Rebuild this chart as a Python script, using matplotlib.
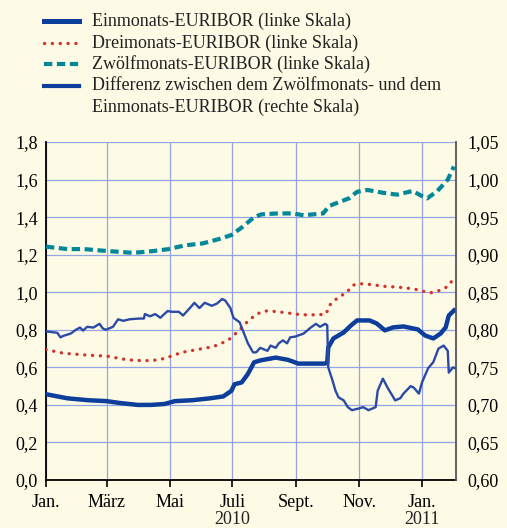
import matplotlib
matplotlib.use("Agg")
import matplotlib.pyplot as plt
import matplotlib.dates as mdates
from matplotlib.lines import Line2D
import pandas as pd

# --- data (per cent) ---
one_m_dates = ["2010-01-01", "2010-01-22", "2010-02-11", "2010-03-01", "2010-03-14", "2010-03-31",
               "2010-04-13", "2010-04-26", "2010-05-06", "2010-05-23", "2010-06-09", "2010-06-22",
               "2010-06-30", "2010-07-03", "2010-07-10", "2010-07-16", "2010-07-22", "2010-07-28",
               "2010-08-12", "2010-08-24", "2010-09-03", "2010-09-27", "2010-10-01", "2010-10-02",
               "2010-10-07", "2010-10-17", "2010-10-24", "2010-10-30", "2010-11-11", "2010-11-18",
               "2010-11-26", "2010-12-04", "2010-12-14", "2010-12-28", "2011-01-04", "2011-01-12",
               "2011-01-19", "2011-01-24", "2011-01-27", "2011-02-01"]
one_m = [0.457, 0.435, 0.425, 0.42, 0.41, 0.40,
         0.40, 0.405, 0.42, 0.425, 0.435, 0.445,
         0.475, 0.51, 0.52, 0.565, 0.627, 0.637,
         0.652, 0.64, 0.62, 0.62, 0.622, 0.706,
         0.754, 0.786, 0.823, 0.85, 0.85, 0.834,
         0.797, 0.813, 0.818, 0.802, 0.77, 0.754,
         0.78, 0.813, 0.876, 0.903]

three_m_dates = ["2010-01-01", "2010-01-18", "2010-02-11", "2010-03-01", "2010-03-21", "2010-04-06",
                 "2010-04-21", "2010-04-30", "2010-05-13", "2010-05-28", "2010-06-12", "2010-06-19",
                 "2010-06-27", "2010-07-02", "2010-07-08", "2010-07-13", "2010-07-19", "2010-07-25",
                 "2010-08-01", "2010-08-07", "2010-08-24", "2010-08-29", "2010-09-07", "2010-09-23",
                 "2010-09-30", "2010-10-03", "2010-10-12", "2010-10-20", "2010-10-25", "2010-10-30",
                 "2010-11-06", "2010-11-14", "2010-11-28", "2010-12-08", "2010-12-21", "2010-12-31",
                 "2011-01-06", "2011-01-11", "2011-01-21", "2011-01-27", "2011-01-31"]
three_m = [0.695, 0.675, 0.665, 0.66, 0.64, 0.635,
           0.64, 0.655, 0.68, 0.695, 0.71, 0.725,
           0.745, 0.77, 0.80, 0.83, 0.86, 0.885,
           0.90, 0.90, 0.89, 0.885, 0.88, 0.88,
           0.885, 0.93, 0.975, 0.998, 1.035, 1.045,
           1.045, 1.04, 1.03, 1.028, 1.02, 1.01,
           0.998, 0.998, 1.015, 1.035, 1.07]

twelve_m_dates = ["2010-01-01", "2010-01-22", "2010-02-07", "2010-03-01", "2010-03-27", "2010-04-16",
                  "2010-04-30", "2010-05-16", "2010-06-02", "2010-06-19", "2010-06-30", "2010-07-10",
                  "2010-07-22", "2010-07-29", "2010-08-14", "2010-08-29", "2010-09-08", "2010-09-27",
                  "2010-10-03", "2010-10-22", "2010-10-30", "2010-11-09", "2010-11-24", "2010-12-08",
                  "2010-12-23", "2010-12-31", "2011-01-06", "2011-01-16", "2011-01-26", "2011-02-01"]
twelve_m = [1.243, 1.23, 1.23, 1.22, 1.21, 1.22,
            1.23, 1.25, 1.26, 1.285, 1.305, 1.345,
            1.40, 1.415, 1.42, 1.42, 1.41, 1.42,
            1.46, 1.50, 1.535, 1.545, 1.53, 1.52,
            1.54, 1.515, 1.50, 1.54, 1.60, 1.67]

diff_dates = ["2010-01-01", "2010-01-12", "2010-01-15", "2010-01-18", "2010-01-25", "2010-01-30",
              "2010-02-03", "2010-02-06", "2010-02-10", "2010-02-16", "2010-02-22", "2010-02-25",
              "2010-02-28", "2010-03-07", "2010-03-12", "2010-03-17", "2010-03-23", "2010-04-01",
              "2010-04-06", "2010-04-07", "2010-04-12", "2010-04-17", "2010-04-22", "2010-04-29",
              "2010-05-03", "2010-05-10", "2010-05-14", "2010-05-22", "2010-05-25", "2010-05-30",
              "2010-06-04", "2010-06-11", "2010-06-16", "2010-06-21", "2010-06-24", "2010-06-29",
              "2010-07-02", "2010-07-08", "2010-07-12", "2010-07-16", "2010-07-21", "2010-07-24",
              "2010-07-28", "2010-08-04", "2010-08-07", "2010-08-12", "2010-08-15", "2010-08-19",
              "2010-08-23", "2010-08-26", "2010-08-31", "2010-09-08", "2010-09-15", "2010-09-20",
              "2010-09-24", "2010-09-29", "2010-10-01", "2010-10-02", "2010-10-06", "2010-10-09",
              "2010-10-12", "2010-10-17", "2010-10-21", "2010-10-25", "2010-10-31", "2010-11-05",
              "2010-11-10", "2010-11-17", "2010-11-19", "2010-11-24", "2010-11-29", "2010-12-06",
              "2010-12-11", "2010-12-14", "2010-12-21", "2010-12-24", "2010-12-29", "2011-01-01",
              "2011-01-07", "2011-01-12", "2011-01-17", "2011-01-22", "2011-01-26", "2011-01-27",
              "2011-01-31", "2011-02-02"]
diff = [0.798, 0.796, 0.790, 0.792, 0.795, 0.800,
        0.803, 0.799, 0.804, 0.803, 0.808, 0.802,
        0.800, 0.804, 0.814, 0.812, 0.814, 0.815,
        0.815, 0.821, 0.818, 0.821, 0.816, 0.825,
        0.824, 0.824, 0.819, 0.831, 0.836, 0.829,
        0.836, 0.832, 0.835, 0.841, 0.839, 0.829,
        0.816, 0.810, 0.796, 0.782, 0.770, 0.770,
        0.776, 0.772, 0.779, 0.776, 0.782, 0.786,
        0.782, 0.790, 0.791, 0.795, 0.803, 0.808,
        0.804, 0.808, 0.806, 0.750, 0.733, 0.719,
        0.710, 0.706, 0.697, 0.693, 0.695, 0.697,
        0.693, 0.697, 0.719, 0.735, 0.722, 0.706,
        0.709, 0.715, 0.725, 0.723, 0.715, 0.730,
        0.749, 0.757, 0.775, 0.779, 0.772, 0.743,
        0.750, 0.749]

legend_labels = ["Einmonats-EURIBOR (linke Skala)",
                 "Dreimonats-EURIBOR (linke Skala)",
                 "Zwölfmonats-EURIBOR (linke Skala)",
                 "Differenz zwischen dem Zwölfmonats- und dem\nEinmonats-EURIBOR (rechte Skala)"]
month_ticks = ["2010-01-01", "2010-03-01", "2010-05-01", "2010-07-01", "2010-09-01", "2010-11-01", "2011-01-01"]
month_labels = ["Jan.", "März", "Mai", "Juli", "Sept.", "Nov.", "Jan."]
year_ticks = ["2010-07-01", "2011-01-01"]
year_labels = ["2010", "2011"]
left_ticks = [0.0, 0.2, 0.4, 0.6, 0.8, 1.0, 1.2, 1.4, 1.6, 1.8]
right_ticks = [0.60, 0.65, 0.70, 0.75, 0.80, 0.85, 0.90, 0.95, 1.00, 1.05]

bg = "#FDFBE5"
c_one = "#0D3E9C"
c_three = "#D4332B"
c_twelve = "#00889A"
c_diff = "#2A4AA6"
grid_c = "#95A4E4"
fs = 13.0

plt.rcParams.update({
    "font.family": ["Liberation Serif", "DejaVu Serif"],
    "font.size": fs,
    "text.color": "#222222",
})

fig = plt.figure(figsize=(5.07, 5.28), dpi=100, facecolor=bg)
ax = fig.add_axes([0.0907, 0.0909, 0.8087, 0.640], facecolor=bg)
ax2 = ax.twinx()

dash = (0, (2.0, 1.1))
dot = (0, (0.05, 2.3))

ax.plot(pd.to_datetime(twelve_m_dates), twelve_m, color=c_twelve, lw=3.0, linestyle=dash,
        dash_capstyle="butt", zorder=3)
ax.plot(pd.to_datetime(three_m_dates), three_m, color=c_three, lw=2.4, linestyle=dot,
        dash_capstyle="round", zorder=3)
ax.plot(pd.to_datetime(one_m_dates), one_m, color=c_one, lw=3.2, solid_joinstyle="round", zorder=4)
ax2.plot(pd.to_datetime(diff_dates), diff, color=c_diff, lw=1.7, solid_joinstyle="round", zorder=4)

ax.set_xlim(pd.Timestamp("2010-01-01"), pd.Timestamp("2011-02-03"))
ax.set_ylim(0, 1.8)
ax2.set_ylim(0.60, 1.05)

ax.set_yticks(left_ticks)
ax.set_yticklabels([f"{v:.1f}".replace(".", ",") for v in left_ticks])
ax2.set_yticks(right_ticks)
ax2.set_yticklabels([f"{v:.2f}".replace(".", ",") for v in right_ticks])

ax.set_xticks(pd.to_datetime(month_ticks))
ax.set_xticklabels(month_labels)
ax.set_xticks(pd.to_datetime(["2010-01-01", "2011-01-01"]), minor=True)

ax.grid(True, color=grid_c, lw=0.9, zorder=0)
ax.set_axisbelow(True)

ax.tick_params(axis="y", length=0, pad=6, labelsize=fs)
ax2.tick_params(axis="y", length=0, pad=8, labelsize=fs)
ax.tick_params(axis="x", which="major", length=5, width=1.2, pad=5, labelsize=fs)
ax.tick_params(axis="x", which="minor", length=9, width=1.2)

ax.spines["top"].set_visible(False)
ax2.spines["top"].set_visible(False)
ax.spines["left"].set_linewidth(1.3)
ax.spines["bottom"].set_linewidth(1.3)
ax2.spines["left"].set_visible(False)
ax2.spines["bottom"].set_visible(False)
ax2.spines["right"].set_color("#555555")
ax2.spines["right"].set_linewidth(1.3)
ax.spines["right"].set_visible(False)

# year labels under Juli and Jan.
for d, lab in zip(year_ticks, year_labels):
    xpix = ax.transData.transform((mdates.date2num(pd.Timestamp(d)), 0))[0]
    fig.text(xpix / fig.bbox.width, 1 - 519 / 528, lab, ha="center", va="center", fontsize=fs)

# legend, drawn by hand
W, H = 507.0, 528.0
rows_y = [21, 43, 64, 86]
styles = [dict(color=c_one, lw=3.6),
          dict(color=c_three, lw=2.4, linestyle=dot, dash_capstyle="round"),
          dict(color=c_twelve, lw=3.0, linestyle=dash, dash_capstyle="butt"),
          dict(color=c_one, lw=3.0)]
for y, st, lab in zip(rows_y, styles, legend_labels):
    fig.add_artist(Line2D([44 / W, 79 / W], [1 - y / H, 1 - y / H], transform=fig.transFigure, **st))
    for k, part in enumerate(lab.split("\n")):
        fig.text(92 / W, 1 - (y + 21.5 * k) / H, part, ha="left", va="center", fontsize=fs)

fig.savefig("out.png", dpi=100, facecolor=bg)
